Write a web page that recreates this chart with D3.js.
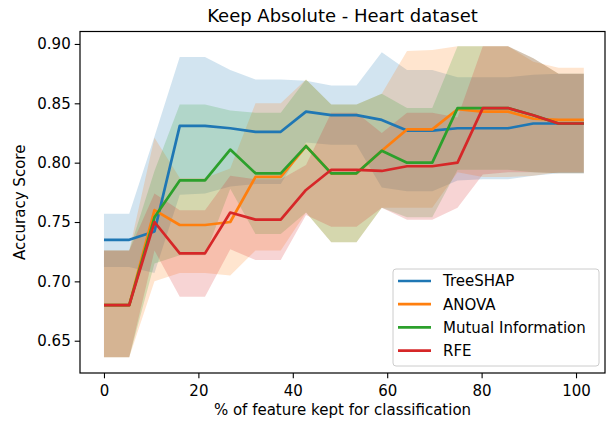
<!DOCTYPE html>
<html lang="en">
<head>
    <meta charset="UTF-8">
    <title>Keep Absolute - Heart dataset</title>
    <script src="https://cdn.jsdelivr.net/npm/d3@7"></script>
    <style>
        body { margin: 0; background: #fff; }
        text { font-family: "DejaVu Sans", sans-serif; fill: #000; }
    </style>
</head>
<body>
    <svg width="610" height="425"></svg>

    <script>
        // x positions (% of features kept)
        var pctKept = [0, 5.35, 10.7, 16.05, 21.4, 26.75, 32.1, 37.45, 42.8, 48.15,
            53.5, 58.85, 64.2, 69.55, 74.9, 80.25, 85.6, 90.95, 96.3, 101.65]

        var methods = ["TreeSHAP", "ANOVA", "Mutual Information", "RFE"]
        var colors = ["#1f77b4", "#ff7f0e", "#2ca02c", "#d62728"]

        // mean accuracy and band edges
        var treeshapMean = [0.735, 0.735, 0.742, 0.831, 0.831, 0.829, 0.826, 0.826, 0.843, 0.840, 0.840, 0.836, 0.827, 0.827, 0.829, 0.829, 0.829, 0.833, 0.833, 0.833]
        var treeshapLow = [0.712, 0.712, 0.707, 0.773, 0.774, 0.780, 0.782, 0.782, 0.817, 0.815, 0.815, 0.779, 0.776, 0.776, 0.785, 0.786, 0.786, 0.789, 0.791, 0.791]
        var treeshapHigh = [0.757, 0.757, 0.822, 0.889, 0.889, 0.878, 0.870, 0.870, 0.869, 0.865, 0.865, 0.893, 0.878, 0.878, 0.872, 0.872, 0.872, 0.874, 0.875, 0.875]

        var anovaMean = [0.680, 0.680, 0.760, 0.7475, 0.7475, 0.750, 0.788, 0.788, 0.814, 0.791, 0.791, 0.810, 0.828, 0.828, 0.845, 0.843, 0.843, 0.837, 0.836, 0.836]
        var anovaLow = [0.636, 0.636, 0.700, 0.707, 0.707, 0.705, 0.726, 0.726, 0.758, 0.733, 0.733, 0.762, 0.762, 0.762, 0.792, 0.788, 0.788, 0.789, 0.792, 0.792]
        var anovaHigh = [0.726, 0.726, 0.821, 0.787, 0.787, 0.795, 0.850, 0.850, 0.870, 0.849, 0.849, 0.858, 0.894, 0.895, 0.898, 0.898, 0.898, 0.885, 0.880, 0.880]

        var miMean = [0.680, 0.680, 0.754, 0.785, 0.785, 0.811, 0.791, 0.791, 0.814, 0.791, 0.791, 0.810, 0.800, 0.800, 0.846, 0.846, 0.846, 0.840, 0.833, 0.833]
        var miLow = [0.636, 0.636, 0.715, 0.722, 0.722, 0.778, 0.740, 0.740, 0.758, 0.733, 0.733, 0.762, 0.754, 0.754, 0.794, 0.794, 0.794, 0.792, 0.791, 0.791]
        var miHigh = [0.726, 0.726, 0.793, 0.849, 0.849, 0.844, 0.842, 0.842, 0.870, 0.849, 0.849, 0.858, 0.846, 0.846, 0.898, 0.898, 0.898, 0.888, 0.875, 0.875]

        var rfeMean = [0.680, 0.680, 0.750, 0.7236, 0.7236, 0.758, 0.752, 0.752, 0.777, 0.794, 0.794, 0.793, 0.797, 0.797, 0.800, 0.846, 0.846, 0.840, 0.833, 0.833]
        var rfeLow = [0.636, 0.636, 0.726, 0.687, 0.687, 0.727, 0.718, 0.718, 0.756, 0.746, 0.746, 0.762, 0.752, 0.752, 0.762, 0.790, 0.792, 0.792, 0.791, 0.791]
        var rfeHigh = [0.726, 0.726, 0.774, 0.760, 0.760, 0.789, 0.786, 0.786, 0.798, 0.842, 0.842, 0.825, 0.842, 0.842, 0.838, 0.898, 0.898, 0.888, 0.875, 0.875]

        var xTicks = [0, 20, 40, 60, 80, 100]
        var yTicks = [0.65, 0.70, 0.75, 0.80, 0.85, 0.90]

        var means = [treeshapMean, anovaMean, miMean, rfeMean]
        var lows = [treeshapLow, anovaLow, miLow, rfeLow]
        var highs = [treeshapHigh, anovaHigh, miHigh, rfeHigh]

        var series = methods.map(function (name, k) {
            return {
                name: name,
                color: colors[k],
                points: pctKept.map(function (x, i) {
                    return {x: x, m: means[k][i], lo: lows[k][i], hi: highs[k][i]}
                })
            }
        })

        var svg = d3.select("svg")
        var plot = {left: 80, right: 605, top: 31.5, bottom: 373}

        var x = d3.scaleLinear().domain([-5.08, 106.14]).range([plot.left, plot.right])
        var y = d3.scaleLinear().domain([0.6228, 0.9105]).range([plot.bottom, plot.top])

        // bands first, then the lines on top
        var area = d3.area()
            .x(function (d) { return x(d.x) })
            .y0(function (d) { return y(d.lo) })
            .y1(function (d) { return y(d.hi) })

        var line = d3.line()
            .x(function (d) { return x(d.x) })
            .y(function (d) { return y(d.m) })

        svg.append("g").selectAll("path").data(series).enter().append("path")
            .attr("d", function (d) { return area(d.points) })
            .attr("fill", function (d) { return d.color })
            .attr("fill-opacity", 0.2)

        svg.append("g").selectAll("path").data(series).enter().append("path")
            .attr("d", function (d) { return line(d.points) })
            .attr("fill", "none")
            .attr("stroke", function (d) { return d.color })
            .attr("stroke-width", 2.7)
            .attr("stroke-linejoin", "round")

        // axes
        var xAxis = svg.append("g")
            .attr("transform", `translate(0,${plot.bottom})`)
            .call(d3.axisBottom(x).tickValues(xTicks).tickFormat(d3.format("d"))
                .tickSizeInner(5.3).tickSizeOuter(0).tickPadding(7))
        var yAxis = svg.append("g")
            .attr("transform", `translate(${plot.left},0)`)
            .call(d3.axisLeft(y).tickValues(yTicks).tickFormat(d3.format(".2f"))
                .tickSizeInner(5.3).tickSizeOuter(0).tickPadding(4))
        xAxis.select(".domain").remove()
        yAxis.select(".domain").remove()
        svg.selectAll(".tick line").attr("stroke", "#000").attr("stroke-width", 1.1)
        svg.selectAll(".tick text").attr("font-size", 15).attr("font-family", "DejaVu Sans")

        // frame
        svg.append("rect")
            .attr("x", plot.left).attr("y", plot.top)
            .attr("width", plot.right - plot.left).attr("height", plot.bottom - plot.top)
            .attr("fill", "none").attr("stroke", "#000").attr("stroke-width", 1.2)

        // titles
        svg.append("text")
            .attr("x", (plot.left + plot.right) / 2).attr("y", 22)
            .attr("text-anchor", "middle").attr("font-size", 18)
            .text("Keep Absolute - Heart dataset")
        svg.append("text")
            .attr("x", (plot.left + plot.right) / 2).attr("y", 414.5)
            .attr("text-anchor", "middle").attr("font-size", 15)
            .text("% of feature kept for classification")
        svg.append("text")
            .attr("transform", `translate(25,${(plot.top + plot.bottom) / 2}) rotate(-90)`)
            .attr("text-anchor", "middle").attr("font-size", 15)
            .text("Accuracy Score")

        // legend
        var legend = svg.append("g")
        legend.append("rect")
            .attr("x", 393).attr("y", 269).attr("width", 206).attr("height", 97)
            .attr("rx", 3).attr("fill", "#fff").attr("fill-opacity", 0.8)
            .attr("stroke", "#cccccc").attr("stroke-width", 1)
        var rows = legend.selectAll("g").data(series).enter().append("g")
            .attr("transform", function (d, i) { return `translate(0,${281 + i * 23.2})` })
        rows.append("line")
            .attr("x1", 398).attr("x2", 431).attr("y1", 0).attr("y2", 0)
            .attr("stroke", function (d) { return d.color }).attr("stroke-width", 2.7)
        rows.append("text")
            .attr("x", 443).attr("y", 5.4).attr("font-size", 15)
            .text(function (d) { return d.name })
    </script>
</body>
</html>
